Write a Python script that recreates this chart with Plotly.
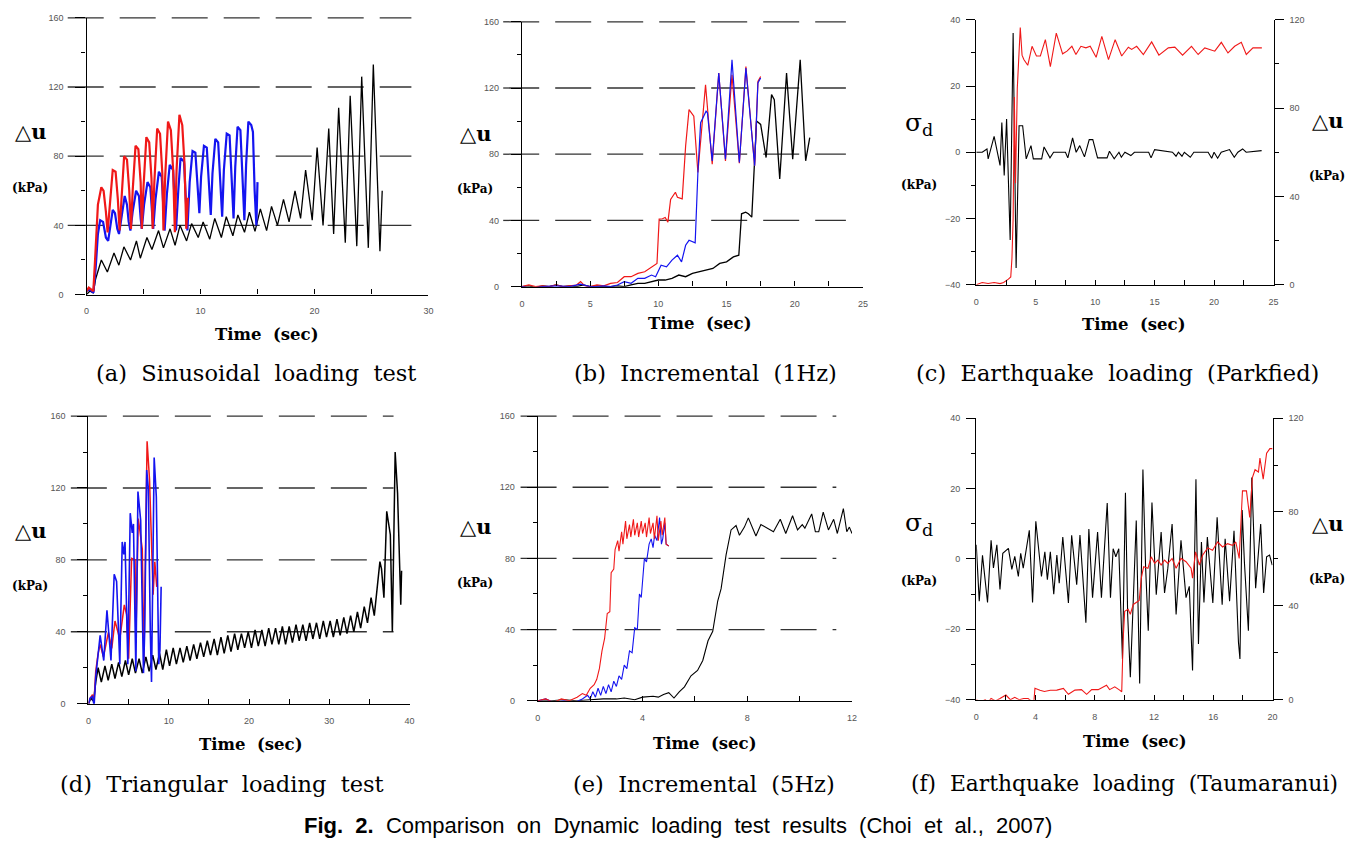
import plotly.graph_objects as go

W, H = 1368, 848

# ---------------- data ----------------
# (a) Sinusoidal loading test
a_red_t = [0, 0.2, 0.4, 0.6, 0.75, 1.0, 1.3, 1.5, 1.7, 1.85, 2.0, 2.3, 2.55, 2.75, 2.9, 3.05, 3.3, 3.55, 3.75, 3.9,
           4.05, 4.3, 4.55, 4.75, 4.85, 5.0, 5.25, 5.5, 5.7, 5.8, 5.95, 6.2, 6.45, 6.65, 6.75, 6.9, 7.15, 7.4, 7.6, 7.75,
           7.9, 8.15, 8.4, 8.6, 8.75, 8.9]
a_red_v = [2, 4, 3, 2, 20, 52, 62, 60, 48, 36, 48, 72, 71, 55, 37, 55, 80, 78, 60, 38,
           60, 86, 84, 65, 38, 62, 91, 88, 67, 38, 65, 96, 93, 70, 37, 68, 100, 95, 72, 36,
           72, 104, 98, 75, 38, 56]
a_blue_t = [0, 0.3, 0.6, 0.8, 1.0, 1.2, 1.45, 1.7, 1.9, 2.05, 2.3, 2.5, 2.7, 2.85, 3.05, 3.35, 3.55, 3.7, 3.85, 4.05,
            4.35, 4.6, 4.75, 4.85, 5.05, 5.35, 5.6, 5.75, 5.85, 6.05, 6.35, 6.6, 6.75, 6.85, 7.05, 7.3, 7.6, 7.75, 7.85, 8.05,
            8.25, 8.55, 8.75, 8.85, 9.05, 9.3, 9.55, 9.75, 9.9, 10.05, 10.3, 10.55, 10.75, 10.9, 11.05, 11.3, 11.55, 11.75, 11.9, 12.05,
            12.3, 12.55, 12.75, 12.9, 13.05, 13.25, 13.5, 13.7, 13.85, 14.0, 14.2, 14.45, 14.6, 14.75, 14.9, 15.0]
a_blue_v = [2, 3, 1, 15, 35, 43, 42, 33, 31, 38, 49, 47, 38, 35, 45, 57, 52, 42, 37, 48,
            60, 57, 44, 38, 52, 65, 62, 46, 38, 55, 71, 68, 48, 37, 58, 75, 72, 50, 37, 60,
            79, 77, 52, 37, 65, 83, 82, 60, 47, 68, 86, 85, 62, 46, 70, 90, 88, 62, 45, 72,
            93, 92, 64, 44, 74, 97, 95, 65, 43, 75, 100, 98, 94, 60, 40, 65]
a_black_t = [0, 0.3, 0.6, 0.8, 1.3, 1.83, 2.41, 2.84, 3.28, 3.86, 4.38, 4.72, 5.30, 5.74, 6.32, 6.75, 7.33, 7.77, 8.20, 8.78,
             9.22, 9.80, 10.23, 10.81, 11.25, 11.83, 12.26, 12.84, 13.28, 13.86, 14.29, 14.78, 15.25, 15.80, 16.23, 16.75, 17.28,
             17.77, 18.29, 18.78, 19.22, 19.80, 20.23, 20.75, 21.25, 21.68, 22.12, 22.70, 23.13, 23.71, 24.14, 24.72, 25.16, 25.74, 25.94]
a_black_v = [0, 2, 1, 9, 20, 13, 24, 17, 27.6, 20, 31, 21, 33, 26, 37, 27, 38, 28.5, 40, 31,
             41, 33, 42, 32, 44, 33, 45, 34, 46, 36, 47.6, 36.5, 49.5, 37, 51, 40, 55,
             42, 60, 44, 72, 43, 85, 40, 96, 35, 108, 30, 115, 28, 126, 27, 133, 25, 60]

# (b) Incremental (1Hz)
b_black_t = [0, 0.5, 1, 1.5, 2, 2.5, 3, 3.5, 4, 4.5, 5, 5.5, 6, 6.5, 7, 7.5, 8, 8.5, 9, 9.5, 10, 10.5, 11, 11.5, 12,
             12.5, 13, 13.5, 14, 14.5, 15, 15.5, 15.9, 16.1, 16.4, 16.6, 16.85, 17.2, 17.5, 17.9, 18.3, 18.5, 18.9, 19.4,
             19.85, 20.4, 20.8, 21.1]
b_black_v = [0, 0.5, -0.5, 0.5, 0, 1, 0, 0.5, 0, 1, 0, 0.5, 0, 0, 0.5, 0, 1, 2, 2, 3, 4, 4, 5, 7, 6,
             8, 9, 10, 11, 14, 15, 18, 19, 44, 45, 44, 42, 100, 98, 78, 116, 113, 65, 129,
             77, 137, 76, 90]
b_red_t = [0, 0.5, 1, 1.5, 2, 2.5, 3, 3.5, 4, 4.3, 4.6, 5, 5.5, 6, 6.5, 7, 7.5, 8, 8.5, 9, 9.5, 9.9, 10.06, 10.3,
           10.5, 10.7, 10.9, 11.25, 11.4, 11.75, 12.0, 12.25, 12.6, 12.9, 13.46, 13.95, 14.43, 14.92, 15.4, 15.94,
           16.42, 17.06, 17.3, 17.5]
b_red_v = [0, 1, 0, 0.5, 0, 1, 0, 0.5, 1, 3, 0.5, 0, 1, 0.5, 2, 2.5, 6, 6, 8, 9, 12, 14, 40.8, 41,
           41.8, 39, 52.7, 57, 54, 53, 85, 107, 103, 69, 122, 74, 129, 76, 128, 74.6,
           133, 73, 124, 127]
b_blue_t = [0, 0.7, 1.5, 2.5, 3.5, 4.3, 5, 5.5, 6, 6.5, 7, 7.5, 8, 8.5, 9, 9.5, 9.8, 10.2, 10.6, 11.0, 11.4, 11.7,
            12.0, 12.25, 12.7, 12.9, 13.1, 13.5, 13.6, 13.95, 14.43, 14.92, 15.4, 15.94, 16.42, 17.06, 17.3, 17.5]
b_blue_v = [0, -1, 0, 0.5, 0, 1.5, 0, 0, 0.5, 0, 1, 3, 2, 5, 5, 7, 6, 13, 12, 16, 19, 15,
            25, 28, 26.5, 69, 99, 106, 105, 76, 129, 77, 137, 75, 132, 73, 123, 126]

# (c) Earthquake loading (Parkfied)
c_sig_t = [0, 0.5, 0.9, 1.0, 1.5, 1.8, 2.0, 2.15, 2.35, 2.55, 2.7, 2.85, 3.1, 3.25, 3.35, 3.6, 3.9, 4.2, 4.6, 4.8,
           5.5, 5.7, 6.2, 6.5, 7.5, 7.7, 8.1, 8.4, 8.7, 9.1, 9.5, 9.8, 10.2, 11.0, 11.2, 11.6, 12.0, 12.2, 12.5, 13.0,
           13.3, 14.5, 14.7, 15.0, 16.5, 16.8, 17.0, 17.3, 17.5, 18.0, 18.3, 19.5, 19.8, 20.0, 20.3, 20.6, 21.3, 21.7,
           22.0, 22.4, 22.7, 24.0]
c_sig_v = [0, 0, 1, -2, 4.8, -0.7, -4, 9, -7, 10, -12, -26.5, 36, -13, -35, 8, 8, -2, 2, -2,
           -2, 1.6, -1.7, 0, 0, -1.7, 4.3, 0, 2, -1.4, 3.8, 3.8, -1.7, -1.7, 0.3, -2, 0, -1.5, 0, -1,
           0, 0, -1.7, 0.8, 0, -1.2, 0, -1.2, 0, -1.5, 0, 0, -1.8, 0, -1.8, 0, 0.8, -1.5,
           0, 1, 0, 0.5]
c_du_t = [0, 0.5, 1.0, 1.5, 2.0, 2.3, 2.7, 2.9, 3.0, 3.1, 3.2, 3.3, 3.45, 3.7, 3.85, 4.0, 4.33, 4.69, 5.06, 5.39,
          5.81, 6.23, 6.73, 7.26, 7.63, 8.04, 8.38, 8.8, 9.22, 9.58, 10.08, 10.56, 11.12, 11.68, 12.23, 12.79, 13.07,
          13.49, 14.05, 14.75, 15.36, 16.15, 16.7, 17.35, 18.1, 18.66, 19.22, 20.06, 20.61, 21.17, 21.73, 22.29,
          22.71, 23.27, 24.02]
c_du_v = [0, 1, 0.5, 1, 0.5, 1, 2.5, 3.5, 12, 30, 85, 46, 89, 116.5, 104, 102, 99.4, 108, 103.6, 103.6,
          111, 98.8, 114, 104.6, 105.8, 108, 104.3, 108, 107.3, 108, 103, 112.5, 102, 111, 103.6, 107.6, 106.6,
          108, 104.3, 110, 104, 107.3, 107.6, 104, 108, 104.3, 107.3, 105.8, 109.8, 105, 108, 109.8,
          104.3, 107.3, 107.3]

# (d) Triangular loading test
d_black_t = [0, 0.3, 0.5, 0.7, 0.9, 1.2, 1.6, 2.05, 2.45, 2.9, 3.3, 3.75, 4.15, 4.6, 5.0, 5.45, 5.85, 6.3, 6.7, 7.15,
             7.55, 8.0, 8.4, 8.85, 9.25, 9.7, 10.1, 10.55, 10.95, 11.4, 11.8, 12.25, 12.65, 13.1, 13.5, 13.95, 14.35,
             14.8, 15.2, 15.65, 16.05, 16.5, 16.9, 17.35, 17.75, 18.2, 18.6, 19.05, 19.45, 19.9, 20.3, 20.75, 21.15,
             21.6, 22.0, 22.45, 22.85, 23.3, 23.7, 24.15, 24.55, 25.0, 25.4, 25.85, 26.25, 26.7, 27.1, 27.55, 27.95,
             28.4, 28.8, 29.25, 29.65, 30.1, 30.5, 30.95, 31.35, 31.8, 32.2, 32.65, 33.05, 33.5, 33.9, 34.35, 34.75,
             35.2, 35.6, 36.3, 36.5, 36.8, 37.15, 37.4, 37.6, 37.85, 38.2, 38.5, 38.9, 39.0]
d_black_v = [0, 3, 2, 4, 12, 20, 12, 21, 13, 22, 14, 23, 15, 24, 16, 25, 17, 25, 17, 26,
             18, 27, 19, 28, 19, 30, 21, 31, 22, 31, 23, 32, 24, 33, 25, 34, 26,
             35, 27, 36, 27, 37, 28, 38, 29, 39, 30, 39, 31, 40, 31, 41, 32,
             41, 32, 42, 33, 42, 33, 43, 33, 43, 34, 44, 35, 44, 35, 45, 36,
             45, 36, 46, 37, 46, 37, 47, 38, 48, 39, 49, 40, 51, 42, 54, 45,
             59, 49, 79, 75, 59, 107, 100, 94, 40, 140, 117, 55, 74]
d_red_t = [0, 0.2, 0.5, 0.7, 0.9, 1.2, 1.45, 1.86, 2.48, 2.9, 3.3, 3.9, 4.46, 4.75, 5.0, 5.37, 5.8, 5.9, 6.2, 6.7,
           6.9, 7.3, 7.6, 8.05, 8.26, 8.5]
d_red_v = [0, 3, 5, 2, 18, 28, 33, 26, 39.6, 30.8, 46, 36, 55, 49.6, 25, 80.8, 80, 35, 103, 86,
           24, 146, 125, 60.6, 79, 65]
d_blue_t = [0, 0.2, 0.5, 0.7, 0.9, 1.2, 1.45, 1.9, 2.3, 2.8, 3.2, 3.5, 3.9, 4.2, 4.4, 4.55, 4.9, 5.2, 5.45, 5.6,
            5.9, 6.16, 6.5, 6.85, 7.0, 7.25, 7.45, 7.7, 7.85, 8.18, 8.45, 8.75, 8.9, 9.05]
d_blue_v = [0, 3, 4, -1, 15, 28, 38, 24, 52, 24, 72, 68, 22, 90, 83, 90, 22, 106, 95, 100,
            18, 118, 102, 17, 40, 130, 120, 40, 12, 137, 115, 22, 30, 65]

# (e) Incremental (5Hz)
e_red_t = [0, 0.3, 0.6, 0.9, 1.2, 1.5, 1.7, 1.85, 2.0, 2.15, 2.25, 2.35, 2.45, 2.55, 2.65, 2.75, 2.8, 2.9, 2.95, 3.05,
           3.1, 3.2, 3.25, 3.35, 3.4, 3.5, 3.55, 3.65, 3.7, 3.8, 3.85, 3.95, 4.0, 4.1, 4.15, 4.25, 4.3, 4.4, 4.45, 4.55,
           4.6, 4.7, 4.75, 4.85, 4.9, 5.0]
e_red_v = [0, 1, -1, 1, 0, 2, 4, 3, 7, 9, 12, 18, 28, 35, 49, 50, 72, 74, 85, 90,
           84, 95, 88, 101, 91, 99, 92, 102, 93, 100, 92, 101, 94, 100, 92, 103, 94, 100, 91, 104,
           90, 101, 93, 103, 88, 87]
e_blue_t = [0, 0.3, 0.6, 1.0, 1.4, 1.7, 1.9, 2.0, 2.1, 2.2, 2.3, 2.4, 2.5, 2.6, 2.7, 2.8, 2.9, 3.0, 3.1, 3.2,
            3.3, 3.4, 3.5, 3.6, 3.7, 3.8, 3.88, 3.95, 4.07, 4.15, 4.25, 4.33, 4.4, 4.46, 4.55, 4.65, 4.72, 4.77,
            4.85, 4.9, 5.0]
e_blue_v = [0, 1, -1, 0, -1, 1, 3, 1, 5, 2, 7, 3, 8, 4, 9, 5, 11, 8, 14, 12,
            20, 18, 28, 27, 41, 40, 60, 58, 80, 78, 88, 91, 86, 93, 90, 103, 88, 91,
            100, 88, 87]
e_black_t = [0, 0.5, 1, 1.5, 2, 2.5, 3, 3.3, 3.7, 4.0, 4.4, 4.6, 4.8, 5.0, 5.2, 5.4, 5.6, 5.85, 6.1, 6.3,
             6.5, 6.68, 6.87, 7.0, 7.19, 7.38, 7.57, 7.7, 7.89, 8.04, 8.33, 8.52, 9.0, 9.26, 9.47, 9.73, 9.92, 10.1,
             10.2, 10.46, 10.6, 10.73, 10.9, 11.1, 11.3, 11.44, 11.67, 11.8, 11.9, 12.0]
e_black_v = [0, 0, 0.5, 0, 0.5, 1, 1, 1.5, 0.5, 2, 2.5, 2, 3.5, 4.5, 1.5, 5, 7.8, 14, 17, 22.6,
             33.7, 39, 56, 63, 82, 96, 98.5, 93, 97.6, 102.8, 92.6, 99, 95, 102, 94, 104, 96, 99,
             97, 105, 95, 95, 106, 96, 102, 94, 108, 95, 97.6, 94]

# (f) Earthquake loading (Taumaranui)
f_sig_t = [0, 0.2, 0.42, 0.76, 1.0, 1.16, 1.39, 1.6, 1.79, 2.17, 2.4, 2.6, 2.84, 3.0, 3.17, 3.58, 3.8, 4.02, 4.4, 4.63,
           4.8, 5.0, 5.23, 5.44, 5.6, 5.84, 6.22, 6.44, 6.78, 7.0, 7.4, 7.6, 7.85, 8.19, 8.45, 8.84, 9.06, 9.24, 9.42,
           9.62, 9.87, 10.07, 10.22, 10.4, 10.58, 10.8, 11.03, 11.25, 11.43, 11.61, 11.86, 12.15, 12.48, 12.71, 12.93,
           13.22, 13.49, 13.82, 14.16, 14.38, 14.6, 14.83, 15.0, 15.2, 15.37, 15.6, 15.97, 16.26, 16.6, 16.8, 17.1,
           17.4, 17.7, 17.8, 17.95, 18.1, 18.37, 18.6, 18.86, 19.2, 19.4, 19.6, 19.8, 19.98]
f_sig_v = [4, -12, 1, -12.4, 5.3, -2.6, 4, -8.7, 1.6, 3, -3, 0.7, -5, 1.6, -2.6, 8.1, -12.4, 10.7, -5, 2,
           -5.9, 2, -10, 1.1, -6.9, 6.2, -12.5, 6.7, -7.3, 6.8, -18.1, 8.5, -11, 7.6, -11, 15.9, -11, 2.9, 0.6,
           2.9, -28.4, 18.8, -15.8, -33.6, -13.9, 10.9, -35.4, 25.4, -2.2, -20.4, 16.0, -10.2, 7.6, -9.7, -2.7,
           9.9, -15.8, 5.3, -11, -7.8, -31.7, 22.6, -24.2, 4.8, -12.4, 6.2, -12.5, 11.8, -13, 5.7, -12,
           8, -23.7, -28.4, 13.9, -0.8, -20.4, 23.1, -8.3, 9.9, -9.7, 0.6, 1.1, -1.8]
f_du_t = [0, 0.3, 0.6, 0.8, 1.0, 1.3, 1.6, 2.0, 2.3, 2.6, 2.9, 3.2, 3.5, 3.8, 3.9, 3.96, 4.3, 4.6, 5.0, 5.44,
          5.88, 6.22, 6.66, 7.1, 7.45, 7.79, 8.23, 8.57, 8.79, 9.0, 9.35, 9.68, 9.82, 9.91, 10.02, 10.25, 10.4, 10.6,
          10.9, 11.0, 11.14, 11.3, 11.59, 11.81, 12.04, 12.26, 12.48, 12.71, 12.93, 13.22, 13.49, 13.82, 14.16, 14.5,
          14.6, 14.8, 14.94, 15.06, 15.28, 15.62, 15.95, 16.29, 16.63, 16.96, 17.3, 17.52, 17.75, 17.97, 18.24, 18.46,
          18.64, 18.82, 19.05, 19.15, 19.37, 19.6, 19.82, 20.0]
f_du_v = [0, -1, 0, -1, 0.5, -0.5, 0.5, 2, 0, 1, 0, 0.5, 0.5, -1, 0, 4.9, 4, 3.5, 4, 4.1,
          4.8, 2.3, 4.1, 4.3, 2.3, 4.3, 4.3, 5.5, 6.2, 4.3, 5.5, 4.1, 3.4, 25, 37.7, 38.5, 36.4, 40.6,
          42, 42.3, 51.8, 56.7, 56, 60.9, 58.1, 59.5, 57.4, 59.5, 58.1, 60.2, 56, 60.2, 58.8, 56,
          51.8, 63, 60.2, 57.4, 61.6, 64.7, 63.7, 67.2, 65.1, 66.5, 65.8, 67.2, 60.2, 89, 89, 77.7,
          94.6, 98, 97, 103, 94, 105, 107, 107]

captions = ["(a)  Sinusoidal  loading  test", "(b)  Incremental  (1Hz)", "(c)  Earthquake  loading  (Parkfied)",
            "(d)  Triangular  loading  test", "(e)  Incremental  (5Hz)", "(f)  Earthquake  loading  (Taumaranui)"]

RED, BLUE, BLACK = "#f01818", "#1414f0", "#000000"

# ---------------- layout helpers ----------------
def fx(p):
    return p / W

def fy(p):
    return 1 - p / H

# pixel boxes of each subplot: (left, right, top, bottom)
boxes = {
    1: (84, 428, 13, 293),
    2: (522, 865, 17, 285),
    3: (979, 1278, 15, 283),
    4: (86, 409, 416, 707),
    5: (538, 854, 416, 704),
    6: (979, 1277, 418, 703),
}
xcfg = {1: ([0, 30], 10, 5), 2: ([0, 25], 5, 2.5), 3: ([0, 25], 5, 2.5),
        4: ([0, 40], 10, 5), 5: ([0, 12], 4, 2), 6: ([0, 20], 4, 2)}
ycfg = {1: ([0, 160], 40, 20), 2: ([0, 160], 40, 20), 3: ([-40, 40], 20, 10),
        4: ([0, 160], 40, 20), 5: ([0, 160], 40, 20), 6: ([-40, 40], 20, 10)}

tickfont = dict(family="Liberation Sans, Arial", size=9, color="#555555")

fig = go.Figure()

def add(n, t, v, color, width, yaxis=None):
    xa = "x" if n == 1 else f"x{n}"
    ya = yaxis if yaxis else ("y" if n == 1 else f"y{n}")
    fig.add_trace(go.Scatter(x=t, y=v, mode="lines", xaxis=xa, yaxis=ya,
                             line=dict(color=color, width=width), showlegend=False, hoverinfo="skip"))

# (a)
add(1, a_black_t, a_black_v, BLACK, 1.3)
add(1, a_blue_t, a_blue_v, BLUE, 2.2)
add(1, a_red_t, a_red_v, RED, 2.2)
# (b)
add(2, b_black_t, b_black_v, BLACK, 1.3)
add(2, b_red_t, b_red_v, RED, 1.2)
add(2, b_blue_t, b_blue_v, BLUE, 1.2)
# (c)
add(3, c_sig_t, c_sig_v, BLACK, 1.1)
add(3, c_du_t, c_du_v, RED, 1.1, yaxis="y7")
# (d)
add(4, d_black_t, d_black_v, BLACK, 1.5)
add(4, d_red_t, d_red_v, RED, 1.5)
add(4, d_blue_t, d_blue_v, BLUE, 1.6)
# (e)
add(5, e_black_t, e_black_v, BLACK, 1.1)
add(5, e_blue_t, e_blue_v, BLUE, 1.1)
add(5, e_red_t, e_red_v, RED, 1.1)
# (f)
add(6, f_sig_t, f_sig_v, BLACK, 1.1)
add(6, f_du_t, f_du_v, RED, 1.1, yaxis="y8")

layout = dict(width=W, height=H, margin=dict(l=0, r=0, t=0, b=0),
              paper_bgcolor="white", plot_bgcolor="white", showlegend=False)

shapes = []
for n, (l, r, t, b) in boxes.items():
    xr, xd, xm = xcfg[n]
    yr, yd, ym = ycfg[n]
    xk = "xaxis" if n == 1 else f"xaxis{n}"
    yk = "yaxis" if n == 1 else f"yaxis{n}"
    xid = "x" if n == 1 else f"x{n}"
    yid = "y" if n == 1 else f"y{n}"
    grid_panel = n in (1, 2, 4, 5)
    layout[xk] = dict(domain=[fx(l), fx(r)], anchor=yid, range=xr, dtick=xd, tick0=0,
                      showline=True, linecolor="black", linewidth=1.3, showgrid=False, zeroline=False,
                      ticks="inside", ticklen=5, tickcolor="black", tickwidth=1,
                      tickfont=tickfont, ticklabelstandoff=8,
                      minor=dict(dtick=xm, tick0=0, ticks="inside", ticklen=5, tickcolor="black", showgrid=False))
    layout[yk] = dict(domain=[fy(b), fy(t)], anchor=xid, range=yr, dtick=yd, tick0=0,
                      showline=True, linecolor="black", linewidth=1.3, showgrid=False, zeroline=False,
                      ticks="outside", ticklen=10 if grid_panel else 9, tickcolor="black", tickwidth=1,
                      tickfont=tickfont, ticklabelstandoff=10 if grid_panel else 4,
                      minor=dict(dtick=ym, tick0=0, ticks="outside", ticklen=4, tickcolor="black", showgrid=False))
    if grid_panel:
        for val in (40, 80, 120, 160):
            frac = (val - yr[0]) / (yr[1] - yr[0])
            shapes.append(dict(type="line", xref=f"{xid} domain", yref=f"{yid} domain",
                               x0=-0.055, x1=0.95, y0=frac, y1=frac, layer="below",
                               line=dict(color="#333333", width=1.3, dash="36px,16px")))

# right axes for (c) and (f)
for n, yk in ((3, "yaxis7"), (6, "yaxis8")):
    l, r, t, b = boxes[n]
    layout[yk] = dict(domain=[fy(b), fy(t)], anchor=f"x{n}", overlaying=f"y{n}", side="right",
                      range=[0, 120], dtick=40, tick0=0, showline=True, linecolor="black", linewidth=1.3,
                      showgrid=False, zeroline=False, ticks="outside", ticklen=9, tickcolor="black",
                      tickfont=tickfont, ticklabelstandoff=4,
                      minor=dict(dtick=20, tick0=0, ticks="outside", ticklen=4, tickcolor="black", showgrid=False))

layout["shapes"] = shapes

SERIF = "DejaVu Serif"
ann = []

def text(x, y, s, size, family=SERIF, bold=False, color="black"):
    ann.append(dict(x=fx(x), y=fy(y), xref="paper", yref="paper", text=(f"<b>{s}</b>" if bold else s),
                    showarrow=False, xanchor="center", yanchor="middle",
                    font=dict(family=family, size=size, color=color)))

# axis titles
time_pos = [(265, 333), (701, 322), (1137, 323), (249, 748), (706, 747), (1138, 745)]
for (x, y) in time_pos:
    text(x, y, "Time\u00a0 (sec)", 16.5, bold=True)

du_left = [(28, 128, 27, 185), (475, 130, 475, 186), (28, 532, 27, 588), (475, 528, 475, 585)]
for (x1, y1, x2, y2) in du_left:
    text(x1, y1, "△u", 21, bold=True)
    text(x2, y2, "(kPa)", 12, bold=True)

for (sx, sy, kx, ky, rx, ry, rkx, rky) in [(921, 120, 921, 182, 1332, 117, 1332, 173),
                                          (921, 525, 921, 583, 1332, 525, 1332, 581)]:
    text(sx, sy, "σ<sub>d</sub>", 25)
    text(kx, ky, "(kPa)", 12, bold=True)
    text(rx, ry, "△u", 21, bold=True)
    text(rkx, rky, "(kPa)", 12, bold=True)

cap_pos = [(254, 372), (707, 372), (1121, 372), (220, 788), (705, 788), (1128, 788)]
cap_size = [22.5, 22.5, 22.5, 22.5, 22.5, 21.8]
for (x, y), c, s in zip(cap_pos, captions, cap_size):
    text(x, y, c.replace("  ", "\u00a0 "), s)

footer = "<b>Fig.\u00a0 2.</b>\u00a0 Comparison\u00a0 on\u00a0 Dynamic\u00a0 loading\u00a0 test\u00a0 results\u00a0 (Choi\u00a0 et\u00a0 al.,\u00a0 2007)"
text(679, 830, footer, 22, family="Liberation Sans, Arial")

layout["annotations"] = ann
fig.update_layout(**layout)

fig.write_html("out.html", config={"displayModeBar": False},
               post_script="document.body.style.margin='0px';")
